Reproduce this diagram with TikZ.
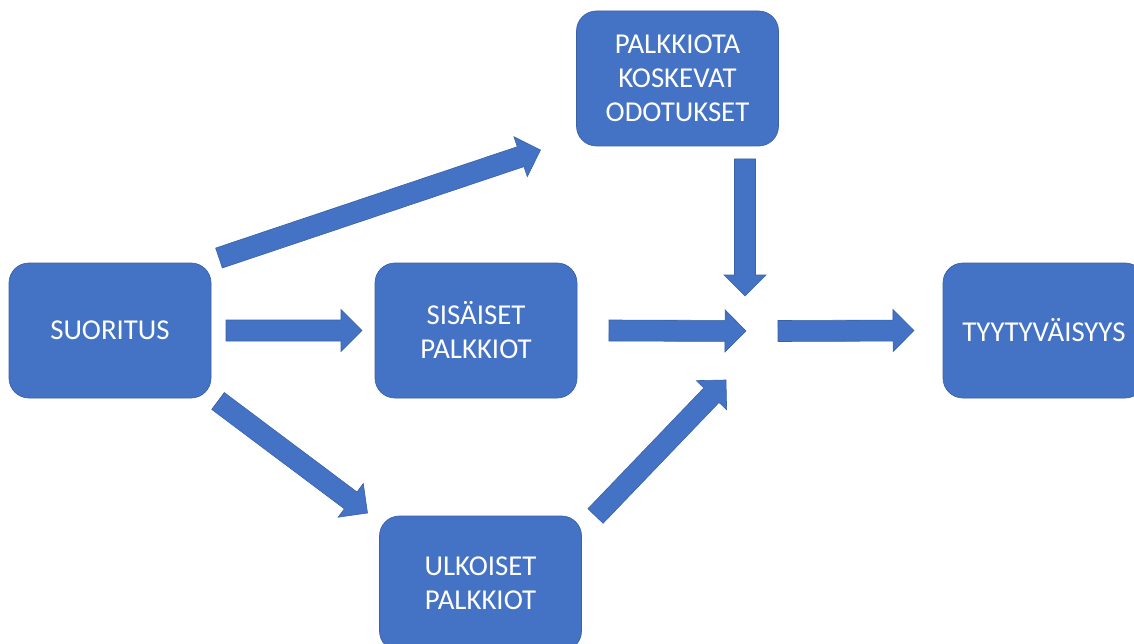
\documentclass[tikz,border=0pt]{standalone}
\usepackage{fontspec}
\setmainfont{Carlito}
\usetikzlibrary{calc}

\definecolor{boxblue}{HTML}{4472C4}
\definecolor{edgeblue}{HTML}{3A62A8}

\tikzset{
  box/.style={draw=edgeblue, line width=0.7pt, fill=boxblue, rounded corners=20pt,
    minimum width=202pt, minimum height=135pt, inner sep=0pt, outer sep=0pt,
    text=white, align=center, font=\fontsize{28.8pt}{34pt}\selectfont},
  blockarrow/.style={draw=edgeblue, line width=0.6pt, fill=boxblue, line join=miter}
}

% Block arrow from #1 to #2: shaft 21pt wide, head 42pt wide and 21pt long
\newcommand\blockarrow[2]{%
  \coordinate (ba-neck) at ($(#2)!21pt!(#1)$);
  \path[blockarrow]
    ($(#1)!10.5pt!90:(#2)$) --
    ($(ba-neck)!10.5pt!-90:(#1)$) --
    ($(ba-neck)!21pt!-90:(#1)$) --
    (#2) --
    ($(ba-neck)!21pt!90:(#1)$) --
    ($(ba-neck)!10.5pt!90:(#1)$) --
    ($(#1)!10.5pt!-90:(#2)$) -- cycle;
}

\begin{document}
\begin{tikzpicture}[x=1pt, y=-1pt]
  \clip (0,0) rectangle (1134,644);
  \fill[white] (0,0) rectangle (1134,644);

  % boxes
  \node[box] (suor) at (110,330.5) {SUORITUS};
  \node[box] (sis)  at (476,330.5) {SISÄISET\\PALKKIOT};
  \node[box] (palk) at (677.5,78.5) {PALKKIOTA\\KOSKEVAT\\ODOTUKSET};
  \node[box] (ulk)  at (480.5,583.5) {ULKOISET\\PALKKIOT};
  \node[box] (tyy)  at (1044,330.5) {TYYTYVÄISYYS};

  % meeting point of the arrows in front of the result box
  \coordinate (hub) at (760,331);

  % arrow end points
  \coordinate (a1s) at ($(suor.east)+(15,0)$);
  \coordinate (a1e) at ($(sis.west)+(-13,0)$);
  \coordinate (a2s) at ($(sis.east)+(32,0)$);
  \coordinate (a2e) at ($(hub)+(-14,0)$);
  \coordinate (a3s) at ($(hub)+(18,0)$);
  \coordinate (a3e) at ($(tyy.west)+(-29,0)$);
  \coordinate (a4s) at ($(palk.south)+(67.5,13)$);
  \coordinate (a4e) at ($(hub)+(-15,-35)$);
  \coordinate (a5s) at ($(suor.north east)+(8,-5)$);
  \coordinate (a5e) at ($(palk.south west)+(-36,4)$);
  \coordinate (a6s) at ($(suor.south east)+(7,3)$);
  \coordinate (a6e) at ($(ulk.north west)+(-12,-3)$);
  \coordinate (a7s) at ($(ulk.north east)+(14,0)$);
  \coordinate (a7e) at ($(hub)+(-34,49)$);

  % arrows
  \blockarrow{a1s}{a1e}
  \blockarrow{a2s}{a2e}
  \blockarrow{a3s}{a3e}
  \blockarrow{a4s}{a4e}
  \blockarrow{a5s}{a5e}
  \blockarrow{a6s}{a6e}
  \blockarrow{a7s}{a7e}
\end{tikzpicture}
\end{document}
